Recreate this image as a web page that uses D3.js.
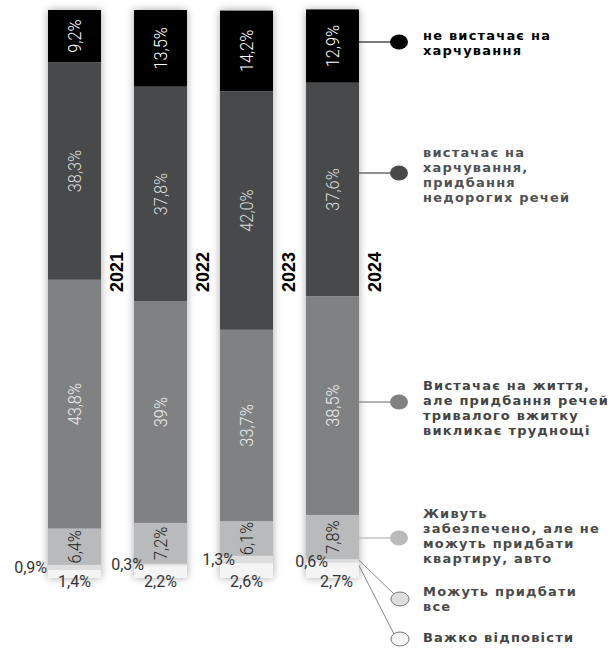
<!DOCTYPE html>
<html>
<head>
<meta charset="utf-8">
<script src="https://cdn.jsdelivr.net/npm/d3@7/dist/d3.min.js"></script>
<style>
  html, body { margin: 0; padding: 0; background: #fff; }
  svg { display: block; }
</style>
</head>
<body>
<svg id="chart" width="611" height="648"></svg>
<script>
// ---------- DATA ----------
const years = ["2021", "2022", "2023", "2024"];
const categories = [
  "Важко відповісти",
  "Можуть придбати все",
  "Живуть забезпечено, але не можуть придбати квартиру, авто",
  "Вистачає на життя, але придбання речей тривалого вжитку викликає труднощі",
  "вистачає на харчування, придбання недорогих речей",
  "не вистачає на харчування"
];
const hardToSay      = [1.4, 2.2, 2.6, 2.7];
const canBuyAll      = [0.9, 0.3, 1.3, 0.6];
const wellOff        = [6.4, 7.2, 6.1, 7.8];
const enoughForLife  = [43.8, 39.0, 33.7, 38.5];
const enoughForFood  = [38.3, 37.8, 42.0, 37.6];
const notEnoughFood  = [9.2, 13.5, 14.2, 12.9];
const valueLabels = {
  hardToSay:     ["1,4%", "2,2%", "2,6%", "2,7%"],
  canBuyAll:     ["0,9%", "0,3%", "1,3%", "0,6%"],
  wellOff:       ["6,4%", "7,2%", "6,1%", "7,8%"],
  enoughForLife: ["43,8%", "39%", "33,7%", "38,5%"],
  enoughForFood: ["38,3%", "37,8%", "42,0%", "37,6%"],
  notEnoughFood: ["9,2%", "13,5%", "14,2%", "12,9%"]
};
const legendLines = [
  ["не вистачає на", "харчування"],
  ["вистачає на", "харчування,", "придбання", "недорогих речей"],
  ["Вистачає на життя,", "але придбання речей", "тривалого вжитку", "викликає труднощі"],
  ["Живуть", "забезпечено, але не", "можуть придбати", "квартиру, авто"],
  ["Можуть придбати", "все"],
  ["Важко відповісти"]
];

// ---------- LAYOUT / STYLE ----------
const keys = ["hardToSay", "canBuyAll", "wellOff", "enoughForLife", "enoughForFood", "notEnoughFood"];
const seriesData = { hardToSay, canBuyAll, wellOff, enoughForLife, enoughForFood, notEnoughFood };
const fills = {
  notEnoughFood: "#000000",
  enoughForFood: "#48494b",
  enoughForLife: "#808183",
  wellOff: "#b9babb",
  canBuyAll: "#dedede",
  hardToSay: "#f4f4f4"
};
const labelColors = {
  notEnoughFood: "#ffffff",
  enoughForFood: "#dcdcdc",
  enoughForLife: "#ececec",
  wellOff: "#1e1e1e"
};
const sideLabelDx = [-1, 10, 15, 22];

const svg = d3.select("#chart");
const rows = years.map((y, i) => {
  const r = { year: y };
  keys.forEach(k => r[k] = seriesData[k][i]);
  return r;
});
const stacked = d3.stack().keys(keys)(rows);

const x = d3.scaleBand().domain(years).range([48, 359]).paddingInner(0.384).paddingOuter(0);
const yS = d3.scaleLinear().domain([0, 100]).range([578, 10]);

// shadow filter
const defs = svg.append("defs");
const f = defs.append("filter").attr("id", "shadow").attr("x", "-40%").attr("y", "-5%").attr("width", "180%").attr("height", "110%");
f.append("feGaussianBlur").attr("in", "SourceAlpha").attr("stdDeviation", 4).attr("result", "blur");
f.append("feComponentTransfer").attr("in", "blur").attr("result", "soft")
  .append("feFuncA").attr("type", "linear").attr("slope", 0.35);
const m = f.append("feMerge");
m.append("feMergeNode").attr("in", "soft");
m.append("feMergeNode").attr("in", "SourceGraphic");

// bar backgrounds with shadow
svg.append("g").selectAll("rect").data(years).join("rect")
  .attr("x", d => x(d)).attr("y", yS(100)).attr("width", x.bandwidth())
  .attr("height", yS(0) - yS(100)).attr("fill", "#eee").attr("filter", "url(#shadow)");

// segments
const gBars = svg.append("g");
stacked.forEach(layer => {
  gBars.append("g").selectAll("rect").data(layer).join("rect")
    .attr("x", d => x(d.data.year))
    .attr("y", d => yS(d[1]))
    .attr("width", x.bandwidth())
    .attr("height", d => yS(d[0]) - yS(d[1]))
    .attr("fill", fills[layer.key]);
});

// in-bar rotated labels
const inKeys = ["wellOff", "enoughForLife", "enoughForFood", "notEnoughFood"];
stacked.filter(l => inKeys.includes(l.key)).forEach(layer => {
  svg.append("g").selectAll("text").data(layer).join("text")
    .attr("transform", d => {
      const cx = x(d.data.year) + x.bandwidth() / 2;
      const cy = (yS(d[0]) + yS(d[1])) / 2;
      return `translate(${cx},${cy}) rotate(-90) scale(0.86,1)`;
    })
    .attr("text-anchor", "middle").attr("dy", "0.36em")
    .attr("font-family", "Roboto, sans-serif").attr("font-weight", 300)
    .attr("font-size", 19)
    .attr("fill", labelColors[layer.key])
    .text((d, i) => valueLabels[layer.key][i]);
});

// small labels
const canLayer = stacked.find(l => l.key === "canBuyAll");
svg.append("g").selectAll("text").data(canLayer).join("text")
  .attr("x", (d, i) => x(d.data.year) + sideLabelDx[i])
  .attr("y", d => (yS(d[0]) + yS(d[1])) / 2)
  .attr("dy", "0.36em").attr("text-anchor", "end")
  .attr("font-family", "Roboto, sans-serif").attr("font-size", 16).attr("fill", "#333")
  .text((d, i) => valueLabels.canBuyAll[i]);

const hardLayer = stacked.find(l => l.key === "hardToSay");
svg.append("g").selectAll("text").data(hardLayer).join("text")
  .attr("x", (d, i) => x(d.data.year) + x.bandwidth() / 2 + (i === 3 ? 4 : 0))
  .attr("y", d => yS(d[0]) + 3)
  .attr("dy", "0.36em").attr("text-anchor", "middle")
  .attr("font-family", "Roboto, sans-serif").attr("font-size", 16).attr("fill", "#333")
  .text((d, i) => valueLabels.hardToSay[i]);

// year labels
svg.append("g").selectAll("text").data(years).join("text")
  .attr("transform", d => `translate(${x(d) + x.bandwidth() + 16},272) rotate(-90)`)
  .attr("text-anchor", "middle").attr("dy", "0.36em")
  .attr("font-family", "'Liberation Sans', Arial, sans-serif").attr("font-weight", "bold")
  .attr("font-size", 18).attr("fill", "#000")
  .text(d => d);

// ---------- LEGEND ----------
const last = years[years.length - 1];
const barRight = x(last) + x.bandwidth();
const lastIdx = years.length - 1;
const layerByKey = k => stacked.find(l => l.key === k)[lastIdx];
const legendKeys = ["notEnoughFood", "enoughForFood", "enoughForLife", "wellOff", "canBuyAll", "hardToSay"];
const legendY = [42, 173, 402, 538, 599, 639];
const legendTextColor = ["#000", "#505052", "#444", "#4a4a4a", "#4a4a4a", "#444"];
const lineColors = ["#333", "#555", "#888", "#bbb", "#888", "#888"];
const legendTextTop = [35, 152, 385, 513, 591, 637];

legendKeys.forEach((k, i) => {
  const seg = layerByKey(k);
  const cx = i >= 4 ? 400 : 399;
  let y0;
  if (i < 4) {
    y0 = legendY[i];
    svg.append("line").attr("x1", barRight).attr("x2", cx - 8).attr("y1", y0).attr("y2", y0)
      .attr("stroke", lineColors[i]).attr("stroke-width", 1.3);
  } else {
    y0 = i === 4 ? yS(seg[1]) + 1 : yS(seg[1]) + 3;
    svg.append("line").attr("x1", barRight).attr("y1", y0)
      .attr("x2", cx - 6).attr("y2", legendY[i] - 5)
      .attr("stroke", lineColors[i]).attr("stroke-width", 1);
  }
  svg.append("ellipse").attr("cx", cx).attr("cy", legendY[i])
    .attr("rx", 9).attr("ry", i >= 4 ? 7 : 7.5)
    .attr("fill", fills[k])
    .attr("stroke", i >= 4 ? "#777" : "none").attr("stroke-width", 1);

  const t = svg.append("text")
    .attr("font-family", "'DejaVu Sans', sans-serif").attr("font-weight", "bold")
    .attr("font-size", 13).attr("letter-spacing", 1.2)
    .attr("fill", legendTextColor[i]);
  legendLines[i].forEach((ln, j) => {
    t.append("tspan").attr("x", 423).attr("y", legendTextTop[i] + j * 15.2).attr("dy", "0.36em").text(ln);
  });
});
</script>
</body>
</html>
